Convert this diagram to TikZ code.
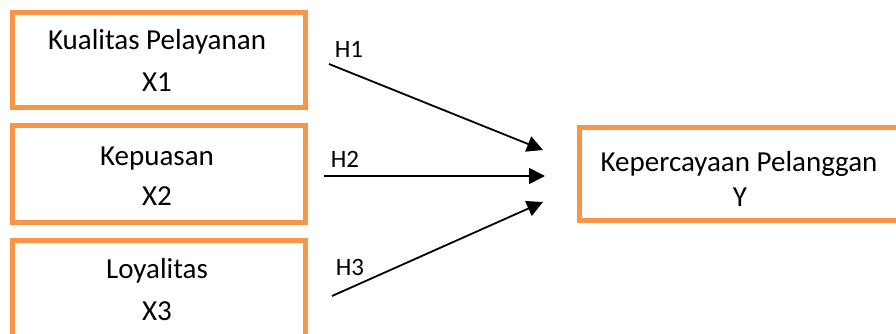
\documentclass[tikz,border=0pt]{standalone}
\usepackage{fontspec}
\setmainfont{Carlito}
\usetikzlibrary{arrows.meta}
\definecolor{boxorange}{HTML}{F79646}
\tikzset{
  obox/.style={draw=boxorange, line width=4.6pt, rectangle, inner sep=0pt},
  txt/.style={anchor=base, inner sep=0pt, font=\fontsize{29}{34}\selectfont},
  hlbl/.style={anchor=base, inner sep=0pt, font=\fontsize{25}{30}\selectfont},
  arr/.style={line width=1.8pt, -{Triangle[length=16pt,width=16pt]}}
}
\begin{document}
\begin{tikzpicture}[x=1pt,y=-1pt]
\useasboundingbox (0,0) rectangle (896,334);
\clip (0,0) rectangle (896,334);
% boxes
\node[obox, minimum width=293pt, minimum height=95pt] (b1) at (159,60) {};
\node[obox, minimum width=293pt, minimum height=97pt] (b2) at (159,174) {};
\node[obox, minimum width=293pt, minimum height=110pt] (b3) at (159,295.5) {};
\node[obox, minimum width=340pt, minimum height=93pt] (by) at (749.5,174) {};
% texts
\node[txt] (t1a) at (157,50) {Kualitas Pelayanan};
\node[txt] (t1b) at (157,92) {X1};
\node[txt] (t2a) at (157,165) {Kepuasan};
\node[txt] (t2b) at (157,205) {X2};
\node[txt] (t3a) at (157,278) {Loyalitas};
\node[txt] (t3b) at (157,320) {X3};
\node[txt] (tya) at (739,171) {Kepercayaan Pelanggan};
\node[txt] (tyb) at (740,206) {Y};
% arrows
\coordinate (s1) at (329,64);
\coordinate (e1) at (543,150);
\coordinate (s2) at (324,176);
\coordinate (e2) at (545,176);
\coordinate (s3) at (332,296);
\coordinate (e3) at (543,202);
\draw[arr] (s1) -- (e1);
\draw[arr] (s2) -- (e2);
\draw[arr] (s3) -- (e3);
% labels
\node[hlbl] (h1) at (349,58) {H1};
\node[hlbl] (h2) at (345,167) {H2};
\node[hlbl] (h3) at (350,275) {H3};
\end{tikzpicture}
\end{document}
